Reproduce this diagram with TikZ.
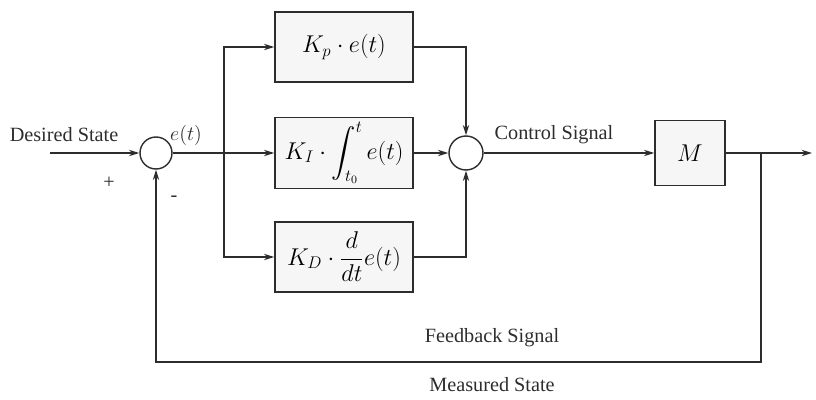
\documentclass[tikz,border=0pt]{standalone}
\usepackage{amsmath}
\usepackage{fontspec}
\setmainfont{Liberation Serif}
\usepackage{tikz}
\usetikzlibrary{arrows.meta, positioning, calc}
\definecolor{mydark}{RGB}{45,45,45}
\definecolor{boxfill}{RGB}{246,246,246}
\tikzset{
  gainbox/.style={rectangle, draw=mydark, fill=boxfill,
    minimum width=3.45cm, minimum height=1.75cm,
    font=\fontsize{17}{20}\selectfont, line width=1pt},
  plantbox/.style={rectangle, draw=mydark, fill=boxfill,
    minimum width=1.75cm, minimum height=1.62cm,
    font=\fontsize{17}{20}\selectfont, line width=1pt},
  sumjunc/.style={circle, draw=mydark, fill=white,
    minimum size=0.8cm, line width=1pt},
  arrow/.style={-{Stealth[length=2.6mm,width=1.6mm]}, line width=0.9pt, color=mydark},
  line/.style={line width=0.9pt, color=mydark},
  lbl/.style={font=\Large, color=mydark}
}
\begin{document}
\begin{tikzpicture}
  \useasboundingbox (0,0) rectangle (20.4,9.975);
  % summing junctions and blocks
  \node[sumjunc] (sumIn) at (3.9,6.15) {};
  \node[sumjunc, minimum size=0.85cm] (sumOut) at (11.65,6.15) {};
  \node[gainbox] (kp) at (8.6,8.8) {$K_p\cdot e(t)$};
  \node[gainbox] (ki) at (8.6,6.15) {$K_I\cdot\displaystyle\int_{t_0}^{t} e(t)$};
  \node[gainbox] (kd) at (8.6,3.55) {$K_D\cdot\dfrac{d}{dt}e(t)$};
  \node[plantbox] (plant) at (17.25,6.15) {$M$};
  % helper points
  \coordinate (start) at (1.25,6.15);
  \coordinate (split) at (5.6,6.15);
  \coordinate (finish) at (20.3,6.15);
  \coordinate (tap) at (19.025,6.15);
  \coordinate (low) at (19.025,0.925);
  % input and branches
  \draw[arrow] (start) -- (sumIn);
  \draw[line] (sumIn) -- (split);
  \draw[arrow] (split) -- (ki);
  \draw[arrow] (split) |- (kp);
  \draw[arrow] (split) |- (kd);
  \draw[arrow] (kp) -| (sumOut);
  \draw[arrow] (ki) -- (sumOut);
  \draw[arrow] (kd) -| (sumOut);
  % plant and feedback
  \draw[arrow] (sumOut) -- (plant);
  \draw[arrow] (plant) -- (finish);
  \draw[arrow] (tap) -- (low) -| (sumIn);
  % labels
  \node[lbl] (desired) at (1.6,6.6) {Desired State};
  \node[lbl] (err) at (4.65,6.6) {$e(t)$};
  \node[lbl] (plus) at (2.725,5.4) {+};
  \node[lbl] (minus) at (4.35,5.0) {-};
  \node[lbl] (ctrl) at (13.85,6.6) {Control Signal};
  \node[lbl] (fbk) at (12.3,1.525) {Feedback Signal};
  \node[lbl] (meas) at (12.3,0.35) {Measured State};
\end{tikzpicture}
\end{document}
